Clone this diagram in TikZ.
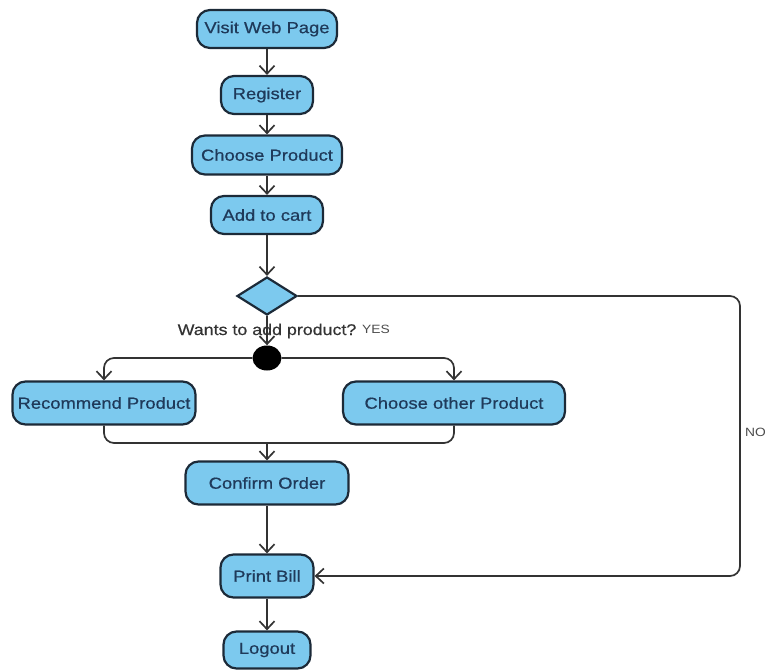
\documentclass[tikz,border=0pt]{standalone}
\usepackage{fontspec}
\setmainfont{Liberation Sans}[FakeStretch=1.15]
\newfontfamily\heavyface{Liberation Sans}[FakeStretch=1.15,FakeBold=0.6]
\usetikzlibrary{arrows.meta,shapes.geometric}
\definecolor{actfill}{HTML}{7CC9EE}
\definecolor{actborder}{HTML}{1C2A38}
\definecolor{acttext}{HTML}{1F3A5A}
\definecolor{wire}{HTML}{333333}
\begin{document}
\begin{tikzpicture}[x=1pt,y=-1pt,
  action/.style={draw=actborder, line width=2.2pt, fill=actfill, rounded corners=13pt,
    text=acttext, font=\heavyface\fontsize{16}{18}\selectfont, inner xsep=2pt, inner ysep=0pt,
    minimum height=38pt},
  choice/.style={diamond, draw=actborder, line width=2.2pt, fill=actfill, inner sep=0pt,
    minimum width=60pt, minimum height=38pt},
  forkdot/.style={ellipse, fill=black, inner sep=0pt, minimum width=29pt, minimum height=25pt},
  flow/.style={draw=wire, line width=1.7pt, -{Straight Barb[length=8pt,width=15pt,line width=1.7pt]}},
  wireline/.style={draw=wire, line width=1.7pt},
  guard/.style={text=black!80, font=\heavyface\fontsize{15.5}{17}\selectfont, inner sep=0pt},
  small/.style={text=black!70, font=\fontsize{12}{14}\selectfont, inner sep=0pt}]
\useasboundingbox (0,0) rectangle (765,669);

% activities
\node[action, minimum width=140pt] (visit) at (267,29) {Visit Web Page};
\node[action, minimum width=92pt] (reg) at (267,95) {Register};
\node[action, minimum width=150pt, minimum height=39pt] (choose) at (267,155) {Choose Product};
\node[action, minimum width=112pt] (cart) at (267,215) {Add to cart};
\node[choice] (dec) at (267,296) {};
\node[forkdot] (fork) at (267,358) {};
\node[action, minimum width=183pt, minimum height=43pt] (rec) at (104,403) {Recommend Product};
\node[action, minimum width=222pt, minimum height=43pt] (other) at (454,403) {Choose other Product};
\node[action, minimum width=163pt, minimum height=43pt] (confirm) at (267,483) {Confirm Order};
\node[action, minimum width=93pt, minimum height=43pt] (bill) at (267,576) {Print Bill};
\node[action, minimum width=87pt, minimum height=37pt] (logout) at (267,650) {Logout};

\coordinate (join) at (267,443);
\coordinate (rail) at (740,430);

% control flow
\draw[flow] (visit) -- (reg);
\draw[flow] (reg) -- (choose);
\draw[flow] (choose) -- (cart);
\draw[flow] (cart) -- (dec);
\draw[flow] (dec) -- (fork);
\draw[flow, rounded corners=10pt] (fork.west) -| (rec.north);
\draw[flow, rounded corners=10pt] (fork.east) -| (other.north);
\draw[wireline, rounded corners=10pt] (rec.south) |- (join);
\draw[wireline, rounded corners=10pt] (other.south) |- (join);
\draw[flow] (join) -- (confirm.north);
\draw[flow] (confirm) -- (bill);
\draw[flow] (bill) -- (logout);
\draw[flow, rounded corners=10pt] (dec.east) -- (dec.east -| rail) |- (bill.east);

% guards
\node[guard] (want) at (267,331) {Wants to add product?};
\node[small, anchor=west] (yes) at (362,329) {YES};
\node[small, anchor=west] (no) at (745,432) {NO};
\end{tikzpicture}
\end{document}
